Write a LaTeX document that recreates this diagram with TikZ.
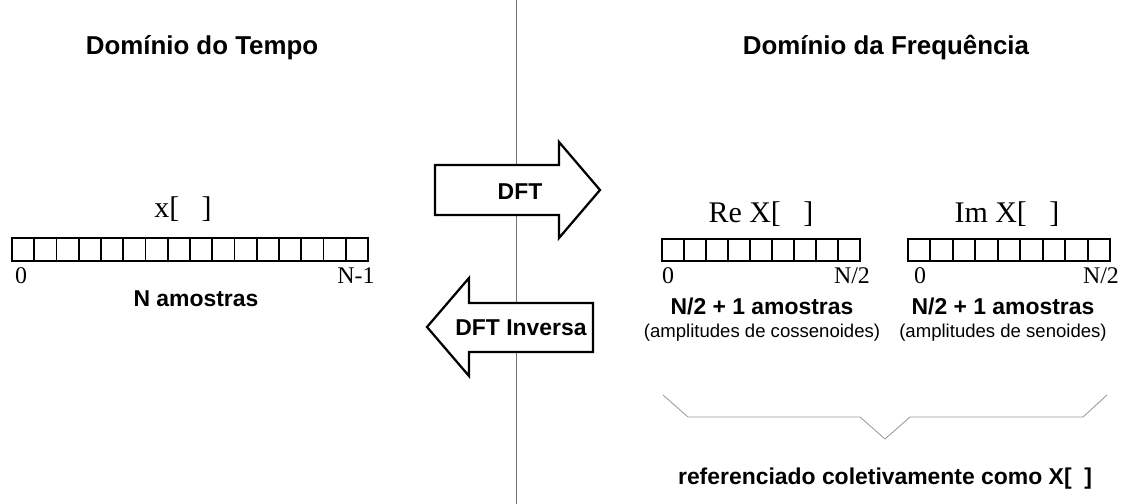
\documentclass[tikz,border=0pt]{standalone}
\usepackage{fontspec}
\setmainfont{Liberation Serif}
\setsansfont{Liberation Sans}
\usetikzlibrary{positioning}

\begin{document}
\begin{tikzpicture}[x=0.025cm, y=-0.025cm,
  title/.style={font=\sffamily\bfseries\fontsize{18.4}{22}\selectfont, anchor=base, inner sep=0},
  lbl/.style={font=\sffamily\bfseries\fontsize{16.3}{20}\selectfont, anchor=base, inner sep=0},
  note/.style={font=\sffamily\fontsize{13.2}{16}\selectfont, anchor=base, inner sep=0},
  sig/.style={font=\fontsize{21.3}{25}\selectfont, anchor=base, inner sep=0},
  idx/.style={font=\fontsize{17}{20}\selectfont, anchor=base, inner sep=0},
  cellbox/.style={line width=1.4pt},
  bigarrow/.style={draw, fill=white, line width=1.6pt, line join=miter},
  divider/.style={draw=black!55, line width=0.6pt}]
\useasboundingbox (0,0) rectangle (1125,504);

% titulos
\node[title] (tt) at (202,55) {Domínio do Tempo};
\node[title] (tf) at (886,55) {Domínio da Frequência};

% dominio do tempo
\node[sig] (x) at (183,218) {x[\hspace{0.75em}]};
\draw[cellbox] (12,238) rectangle (368,261);
\foreach \i in {1,...,15} \draw[cellbox] ({12+\i*22.25},238) -- ({12+\i*22.25},261);
\node[idx] (x0) at (21,284) {0};
\node[idx] (xn) at (356,284) {N-1};
\node[lbl] (na) at (196,307) {N amostras};

% setas
\draw[divider] (516,0) -- (516,504);
\draw[bigarrow] (435,165) -- (559,165) -- (559,142) -- (600,190) -- (559,238) -- (559,215) -- (435,215) -- cycle;
\draw[bigarrow] (593,303) -- (469,303) -- (469,278) -- (427,327) -- (469,376) -- (469,352) -- (593,352) -- cycle;
\node[lbl] (dft) at (520,200) {DFT};
\node[lbl] (idft) at (521,335) {DFT Inversa};

% dominio da frequencia
\node[sig] (re) at (761,223) {Re X[\hspace{0.75em}]};
\node[sig] (im) at (1007,223) {Im X[\hspace{0.75em}]};
\draw[cellbox] (662,239) rectangle (860,261);
\foreach \i in {1,...,8} \draw[cellbox] ({662+\i*22},239) -- ({662+\i*22},261);
\draw[cellbox] (908,239) rectangle (1110,261);
\foreach \i in {1,...,8} \draw[cellbox] ({908+\i*202/9},239) -- ({908+\i*202/9},261);
\node[idx] (re0) at (668,284) {0};
\node[idx] (ren) at (852,284) {N/2};
\node[idx] (im0) at (920,284) {0};
\node[idx] (imn) at (1101,284) {N/2};
\node[lbl] (rea) at (762,315) {N/2 + 1 amostras};
\node[lbl] (ima) at (1003,315) {N/2 + 1 amostras};
\node[note] (rec) at (762,337) {(amplitudes de cossenoides)};
\node[note] (ims) at (1003,337) {(amplitudes de senoides)};

% chave
\draw[divider, draw=black!40] (663,395) -- (688,417) -- (860,417) -- (885,439) -- (910,417) -- (1083,417) -- (1107,395);
\node[lbl] (col) at (885,484) {referenciado coletivamente como X[\hspace{0.55em}]};
\end{tikzpicture}
\end{document}
